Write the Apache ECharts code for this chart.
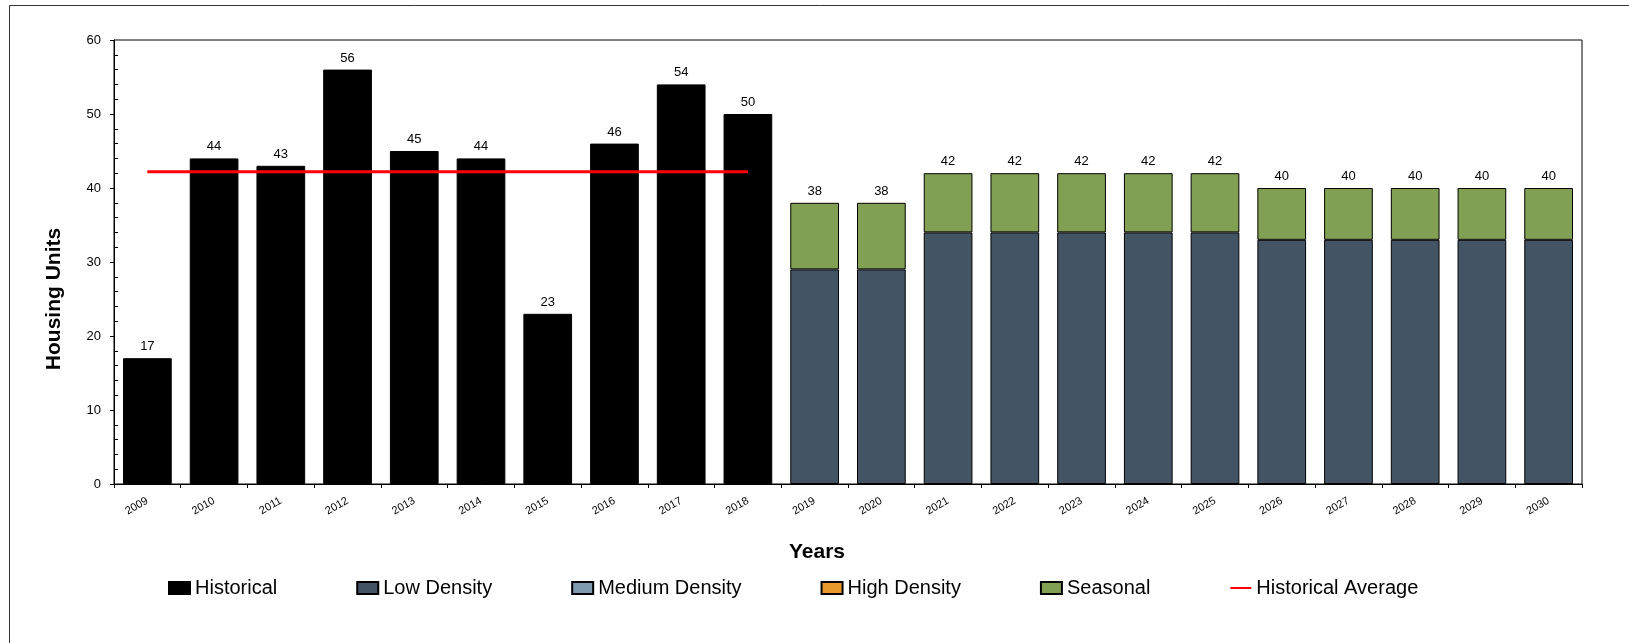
<!DOCTYPE html>
<html>
<head>
<meta charset="utf-8">
<script src="https://cdn.jsdelivr.net/npm/echarts@6/dist/echarts.min.js"></script>
<style>
html,body{margin:0;padding:0;background:#fff;}
#chart{width:1629px;height:643px;}
</style>
</head>
<body>
<div id="chart"></div>
<script>
const years = ['2009','2010','2011','2012','2013','2014','2015','2016','2017','2018','2019','2020','2021','2022','2023','2024','2025','2026','2027','2028','2029','2030'];
const historical = [17,44,43,56,45,44,23,46,54,50,'-','-','-','-','-','-','-','-','-','-','-','-'];
const lowDensity = ['-','-','-','-','-','-','-','-','-','-',29,29,34,34,34,34,34,33,33,33,33,33];
const mediumDensity = ['-','-','-','-','-','-','-','-','-','-','-','-','-','-','-','-','-','-','-','-','-','-'];
const highDensity = ['-','-','-','-','-','-','-','-','-','-','-','-','-','-','-','-','-','-','-','-','-','-'];
const seasonal = ['-','-','-','-','-','-','-','-','-','-',9,9,8,8,8,8,8,7,7,7,7,7];
const historicalAverage = [42.2,42.2,42.2,42.2,42.2,42.2,42.2,42.2,42.2,42.2,'-','-','-','-','-','-','-','-','-','-','-','-'];
const yTicks = {min:0, max:60, interval:10};

const num = v => (typeof v === 'number' ? v : 0);
const totals = years.map((_, i) => num(lowDensity[i]) + num(mediumDensity[i]) + num(highDensity[i]) + num(seasonal[i]));

const FONT = '"Liberation Sans", Arial, sans-serif';
const chart = echarts.init(document.getElementById('chart'), null, {renderer:'canvas'});
const barBase = {type:'bar', stack:'total', barCategoryGap:'27%'};
chart.setOption({
  animation:false,
  backgroundColor:'#fff',
  textStyle:{fontFamily:FONT},
  grid:{left:114, right:47, top:40, bottom:159, show:true, borderColor:'#000', borderWidth:1, backgroundColor:'transparent'},
  legend:{
    left:168, top:578, padding:0, itemWidth:21, itemHeight:12, itemGap:79, icon:'rect',
    textStyle:{fontFamily:FONT, fontSize:20, color:'#000'},
    data:['Historical','Low Density','Medium Density','High Density','Seasonal',
      {name:'Historical Average', icon:'inherit', itemStyle:{opacity:0}}]
  },
  graphic:[
    {type:'rect', z:-10, silent:true, shape:{x:9.5, y:5.5, width:2000, height:2000}, style:{fill:'none', stroke:'#333', lineWidth:1}},
    {type:'text', x:54, y:299, rotation:Math.PI/2, style:{text:'Housing Units', font:'bold 21px ' + FONT, fill:'#000', align:'center', verticalAlign:'middle'}},
    {type:'text', x:817, y:552, style:{text:'Years', font:'bold 21px ' + FONT, fill:'#000', align:'center', verticalAlign:'middle'}}
  ],
  xAxis:{
    type:'category', data:years,
    axisLine:{lineStyle:{color:'#000', width:1}},
    axisTick:{show:true, length:4, lineStyle:{color:'#000'}},
    axisLabel:{rotate:30, fontSize:11, color:'#000', fontFamily:FONT, margin:16, interval:0}
  },
  yAxis:{
    type:'value', min:yTicks.min, max:yTicks.max, interval:yTicks.interval,
    axisLine:{show:true, lineStyle:{color:'#000', width:1}},
    axisTick:{show:true, length:4, lineStyle:{color:'#000'}},
    minorTick:{show:true, splitNumber:5, length:-4, lineStyle:{color:'#000'}},
    splitLine:{show:false},
    axisLabel:{fontSize:13, color:'#000', fontFamily:FONT, margin:13}
  },
  series:[
    Object.assign({}, barBase, {name:'Historical', data:historical,
      itemStyle:{color:'#000000', borderColor:'#000', borderWidth:1},
      label:{show:true, position:'top', fontSize:13, color:'#000', fontFamily:FONT}}),
    Object.assign({}, barBase, {name:'Low Density', data:lowDensity,
      itemStyle:{color:'#435464', borderColor:'#000', borderWidth:1}}),
    Object.assign({}, barBase, {name:'Medium Density', data:mediumDensity,
      itemStyle:{color:'#7F9AAE', borderColor:'#000', borderWidth:1}}),
    Object.assign({}, barBase, {name:'High Density', data:highDensity,
      itemStyle:{color:'#E8992E', borderColor:'#000', borderWidth:1}}),
    Object.assign({}, barBase, {name:'Seasonal', data:seasonal,
      itemStyle:{color:'#82A054', borderColor:'#000', borderWidth:1},
      label:{show:true, position:'top', fontSize:13, color:'#000', fontFamily:FONT,
        formatter: p => String(totals[p.dataIndex])}}),
    {type:'line', name:'Historical Average', data:historicalAverage, symbol:'none', z:5,
      lineStyle:{color:'#FF0000', width:3}, itemStyle:{color:'#FF0000'}}
  ]
});
</script>
</body>
</html>
